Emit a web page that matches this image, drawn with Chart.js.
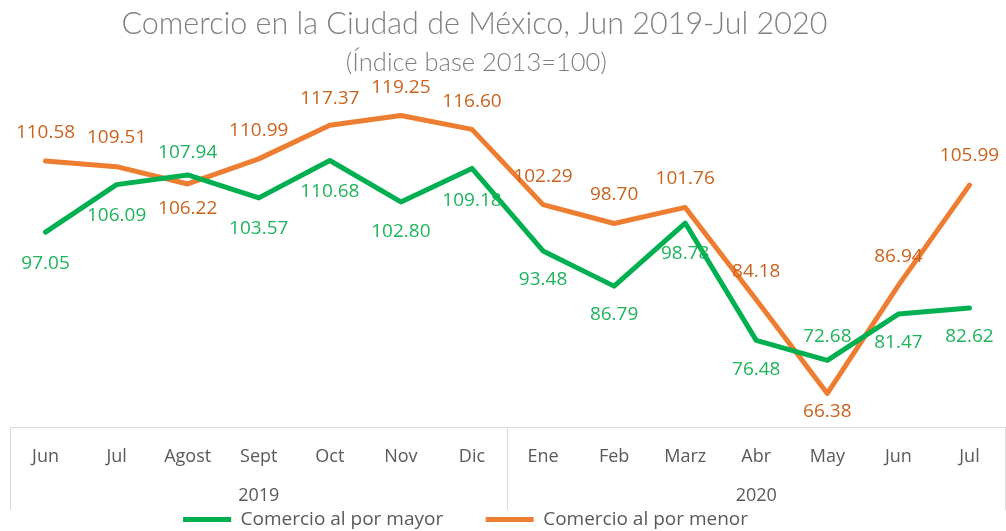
<!DOCTYPE html>
<html lang="es">
<head>
<meta charset="utf-8">
<title>Comercio en la Ciudad de México</title>
<script src="https://cdn.jsdelivr.net/npm/chart.js@4.4.1/dist/chart.umd.min.js"></script>
<style>
  html, body { margin: 0; padding: 0; background: #fff; }
  #wrap { width: 1006px; height: 531px; position: relative; }
</style>
</head>
<body>
<div id="wrap"><canvas id="comercioChart"></canvas></div>
<script>
// Índice base 2013=100
const months = ['Jun', 'Jul', 'Agost', 'Sept', 'Oct', 'Nov', 'Dic',
                'Ene', 'Feb', 'Marz', 'Abr', 'May', 'Jun', 'Jul'];
const years = ['2019', '2020'];
const porMayor = [97.05, 106.09, 107.94, 103.57, 110.68, 102.80, 109.18,
                  93.48, 86.79, 98.78, 76.48, 72.68, 81.47, 82.62];
const porMenor = [110.58, 109.51, 106.22, 110.99, 117.37, 119.25, 116.60,
                  102.29, 98.70, 101.76, 84.18, 66.38, 86.94, 105.99];

// label offsets (px) from each point, negative = above
const mayorLabelDy = [31, 31, -22, 31, 31, 30, 32, 29, 28, 31, 29, -24, 28, 29];
const menorLabelDy = [-28, -29, 25, -28, -27, -28, -28, -28, -29, -29, -28, 18, -29, -30];

const GREEN = '#00B050';
const ORANGE = '#ED7D31';
const GRID = '#D9D9D9';
const AXIS_TEXT = '#595959';
const FONT = '"Open Sans", sans-serif';

const pointLabels = {
    id: 'pointLabels',
    afterDatasetsDraw(chart) {
        const ctx = chart.ctx;
        ctx.save();
        ctx.font = '19px ' + FONT;
        ctx.textAlign = 'center';
        ctx.textBaseline = 'middle';
        chart.data.datasets.forEach((ds, i) => {
            const meta = chart.getDatasetMeta(i);
            ctx.fillStyle = ds.labelColor;
            meta.data.forEach((pt, j) => {
                ctx.fillText(ds.data[j].toFixed(2), pt.x, pt.y + ds.labelDy[j]);
            });
        });
        ctx.restore();
    }
};

// only the year boundaries get a divider line
const yearDivider = c => (c.index === undefined || c.index === 0 || c.index === 7) ? GRID : 'rgba(0,0,0,0)';

new Chart(document.getElementById('comercioChart'), {
    type: 'line',
    data: {
        labels: months,
        datasets: [
            {
                label: 'Comercio al por mayor',
                data: porMayor,
                borderColor: GREEN,
                backgroundColor: GREEN,
                labelColor: '#1FB35C',
                labelDy: mayorLabelDy,
                borderWidth: 5,
                pointRadius: 0,
                tension: 0,
                borderJoinStyle: 'round',
                borderCapStyle: 'round'
            },
            {
                label: 'Comercio al por menor',
                data: porMenor,
                borderColor: ORANGE,
                backgroundColor: ORANGE,
                labelColor: '#C9631E',
                labelDy: menorLabelDy,
                borderWidth: 5,
                pointRadius: 0,
                tension: 0,
                borderJoinStyle: 'round',
                borderCapStyle: 'round'
            }
        ]
    },
    options: {
        responsive: true,
        maintainAspectRatio: false,
        animation: false,
        layout: { padding: { left: 10, right: 1, top: 0, bottom: -8 } },
        scales: {
            x: {
                type: 'category',
                position: { y: 60 },
                offset: true,
                grid: {
                    display: true,
                    offset: true,
                    drawOnChartArea: false,
                    drawTicks: true,
                    tickLength: 82,
                    lineWidth: 1,
                    color: yearDivider
                },
                border: { display: true, color: GRID, width: 1 },
                ticks: {
                    padding: -63,
                    color: AXIS_TEXT,
                    autoSkip: false,
                    maxRotation: 0,
                    font: { family: FONT, size: 18 }
                }
            },
            x2: {
                type: 'category',
                labels: years,
                position: 'bottom',
                offset: true,
                grid: {
                    display: true,
                    drawOnChartArea: false,
                    drawTicks: true,
                    tickLength: 58,
                    color: 'rgba(0,0,0,0)'
                },
                border: { display: false },
                ticks: {
                    padding: 0.2,
                    color: AXIS_TEXT,
                    maxRotation: 0,
                    font: { family: FONT, size: 18 }
                }
            },
            y: {
                display: false,
                min: 60,
                max: 125
            }
        },
        plugins: {
            title: {
                display: true,
                text: 'Comercio en la Ciudad de México, Jun 2019-Jul 2020        ',
                color: '#7F7F7F',
                font: { family: 'Lato, sans-serif', size: 30.5, weight: 300 },
                padding: { top: 6, bottom: 0 }
            },
            subtitle: {
                display: true,
                text: '(Índice base 2013=100)         ',
                color: '#7F7F7F',
                font: { family: 'Lato, sans-serif', size: 25.5, weight: 300 },
                padding: { top: 5, bottom: 7 }
            },
            legend: {
                position: 'bottom',
                labels: {
                    color: AXIS_TEXT,
                    boxWidth: 48,
                    boxHeight: 5,
                    padding: 3,
                    font: { family: FONT, size: 19 },
                    generateLabels: chart => Chart.defaults.plugins.legend.labels.generateLabels(chart)
                        .map((item, i) => ({
                            ...item,
                            lineWidth: 0,
                            text: item.text + (i === 0 ? '        ' : '                 ')
                        }))
                }
            },
            tooltip: { enabled: false }
        }
    },
    plugins: [pointLabels]
});
</script>
</body>
</html>
